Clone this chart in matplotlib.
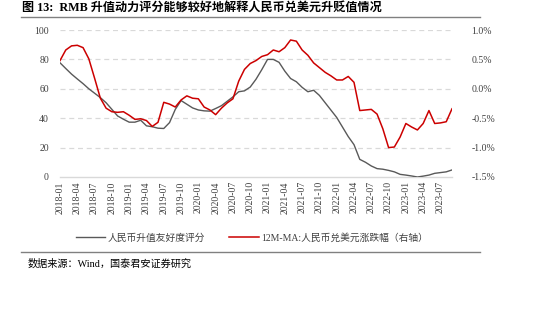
import matplotlib
matplotlib.use("Agg")
import matplotlib.pyplot as plt
import numpy as np
from matplotlib.lines import Line2D

plt.rcParams['axes.unicode_minus'] = False
plt.rcParams['font.family'] = ['Liberation Serif', 'Noto Sans CJK SC', 'DejaVu Sans']

# Monthly observations, 2018-01 .. 2023-09
months = [f"{y}-{m:02d}" for y in range(2018, 2024) for m in range(1, 13)][:69]

score = [77.7, 73.8, 70.0, 66.7, 63.5, 60.0, 57.0, 54.0, 50.5, 46.0,
         41.5, 39.3, 37.3, 37.3, 38.6, 34.8, 34.2, 33.2, 33.0, 37.0,
         46.0, 52.0, 49.5, 47.0, 45.6, 45.0, 44.8, 46.6, 48.5, 51.5,
         54.5, 58.0, 58.6, 61.2, 66.5, 73.0, 80.0, 80.0, 78.0, 72.0,
         67.0, 64.8, 61.0, 58.0, 59.0, 55.5, 50.5, 45.5, 40.5, 34.0,
         27.5, 22.0, 12.0, 10.0, 7.5, 5.7, 5.3, 4.5, 3.5, 1.8,
         1.3, 0.7, 0.0, 0.6, 1.3, 2.5, 3.0, 3.5, 4.8]

rmb_usd_ma = [0.48, 0.66, 0.73, 0.74, 0.70, 0.51, 0.18, -0.16, -0.33, -0.39,
              -0.40, -0.39, -0.45, -0.52, -0.51, -0.54, -0.64, -0.57, -0.23, -0.26,
              -0.31, -0.19, -0.12, -0.16, -0.17, -0.31, -0.36, -0.44, -0.33, -0.24,
              -0.17, 0.13, 0.33, 0.43, 0.48, 0.55, 0.58, 0.66, 0.63, 0.70,
              0.83, 0.81, 0.66, 0.57, 0.44, 0.36, 0.28, 0.22, 0.15, 0.15,
              0.21, 0.11, -0.37, -0.36, -0.35, -0.43, -0.68, -1.00, -0.99, -0.82,
              -0.59, -0.65, -0.70, -0.59, -0.37, -0.59, -0.58, -0.56, -0.34]

left_ticks = [0, 20, 40, 60, 80, 100]
right_ticks = [-1.5, -1.0, -0.5, 0.0, 0.5, 1.0]

title = "图 13:  RMB 升值动力评分能够较好地解释人民币兑美元升贬值情况"
label_score = "人民币升值友好度评分"
label_rmb = "12M-MA:人民币兑美元涨跌幅（右轴）"
source = "数据来源：Wind，国泰君安证券研究"

W, H = 546, 322
fig = plt.figure(figsize=(W / 100, H / 100), dpi=100)

GRAY = '#595959'
RED = '#cc0000'
TXT = '#404040'

ax = fig.add_axes([60 / W, 1 - 177 / H, (452 - 60) / W, (177 - 30) / H])
x = np.arange(len(months))
ax.plot(x, score, color=GRAY, lw=1.0, zorder=3)
ax.set_xlim(0, len(months) - 1)
ax.set_ylim(0, 100)
ax.set_yticks(left_ticks)
ax.set_yticklabels([str(v) for v in left_ticks])
for v in left_ticks[1:]:
    ax.axhline(v, color='#d9d9d9', lw=0.9, ls=(0, (4, 3)), zorder=1)
for s in ['top', 'right', 'left']:
    ax.spines[s].set_visible(False)
ax.spines['bottom'].set_color('#d9d9d9')
ax.spines['bottom'].set_linewidth(1.0)

tick_idx = list(range(0, len(months), 3))
ax.set_xticks(tick_idx)
ax.set_xticklabels([months[i] for i in tick_idx], rotation=90)
ax.tick_params(axis='x', length=0, pad=3, labelsize=7, colors=TXT)
ax.tick_params(axis='y', length=0, pad=8, labelsize=7, colors=TXT)

ax2 = ax.twinx()
ax2.plot(x, rmb_usd_ma, color=RED, lw=1.1, zorder=3)
ax2.set_ylim(-1.5, 1.0)
ax2.set_yticks(right_ticks)
ax2.set_yticklabels([f"{v:.1f}%" for v in right_ticks])
ax2.tick_params(axis='y', length=0, pad=14, labelsize=7, colors=TXT)
for s in ['top', 'right', 'left', 'bottom']:
    ax2.spines[s].set_visible(False)

# Title, rules and footnote
fig.text(22 / W, 1 - 8 / H, title, fontsize=8.7, fontweight='bold',
         ha='left', va='center', color='#000000')
fig.add_artist(Line2D([21 / W, 480 / W], [1 - 16.5 / H, 1 - 16.5 / H],
                      color='#808080', lw=1.0))
fig.add_artist(Line2D([21 / W, 480 / W], [1 - 252 / H, 1 - 252 / H],
                      color='#808080', lw=1.0))
fig.text(28 / W, 1 - 264 / H, source, fontsize=7.3, ha='left', va='center',
         color='#000000')

handles = [Line2D([], [], color=GRAY, lw=1.0), Line2D([], [], color=RED, lw=1.1)]
fig.legend(handles, [label_score, label_rmb], loc='center',
           bbox_to_anchor=(252 / W, 1 - 238 / H), ncol=2, frameon=False,
           fontsize=7, handlelength=3.0, handletextpad=0.3, columnspacing=2.5,
           labelcolor=TXT)

fig.savefig("out.png", dpi=100)
